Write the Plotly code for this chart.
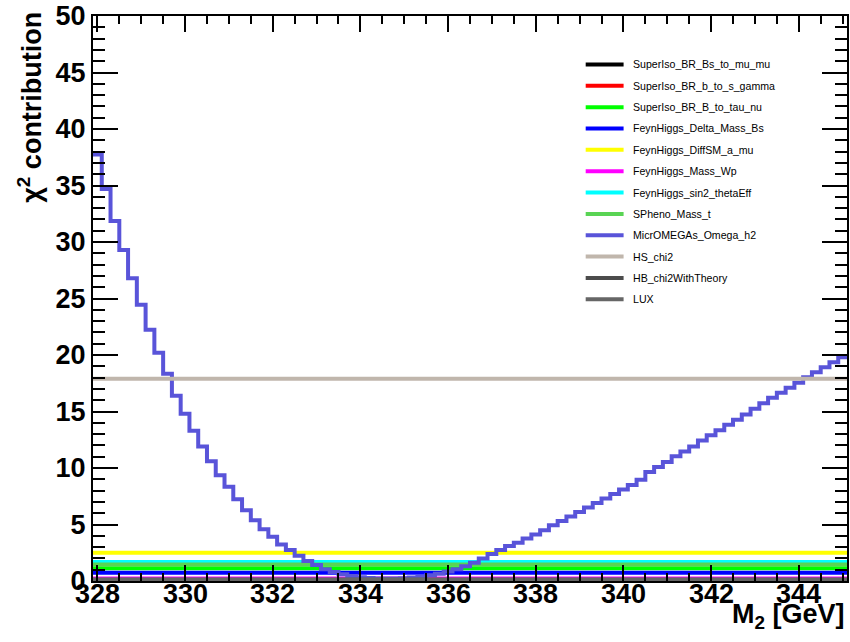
import numpy as np
import plotly.graph_objects as go

# ---------------- data ----------------
x_lo, bin_w, n_bins = 328.0, 0.2, 86
bin_centers = x_lo + bin_w * np.arange(n_bins)

omega_h2 = [37.75, 34.7, 31.86, 29.3, 26.8, 24.45, 22.24, 20.2, 18.33, 16.4,
            14.8, 13.3, 11.9, 10.6, 9.36, 8.33, 7.24, 6.27, 5.38, 4.59,
            3.91, 3.24, 2.74, 2.23, 1.76, 1.41, 1.03, 0.79, 0.59, 0.44,
            0.33, 0.27, 0.23, 0.22, 0.22, 0.25, 0.3, 0.38, 0.5, 0.65,
            0.85, 1.05, 1.3, 1.62, 2.0, 2.38, 2.74, 3.09, 3.38, 3.77,
            4.12, 4.5, 4.94, 5.3, 5.7, 6.1, 6.5, 6.9, 7.3, 7.7,
            8.1, 8.5, 8.97, 9.65, 10.09, 10.53, 11.03, 11.47, 11.9, 12.44,
            12.89, 13.33, 13.83, 14.27, 14.74, 15.24, 15.74, 16.21, 16.65, 17.1,
            17.54, 18.03, 18.47, 18.91, 19.36, 19.8]

series_names = ["SuperIso_BR_Bs_to_mu_mu", "SuperIso_BR_b_to_s_gamma", "SuperIso_BR_B_to_tau_nu",
                "FeynHiggs_Delta_Mass_Bs", "FeynHiggs_DiffSM_a_mu", "FeynHiggs_Mass_Wp",
                "FeynHiggs_sin2_thetaEff", "SPheno_Mass_t", "MicrOMEGAs_Omega_h2",
                "HS_chi2", "HB_chi2WithTheory", "LUX"]
series_colors = ["#000000", "#ff0000", "#00ff00", "#0000ff", "#ffff00", "#ff00ff",
                 "#00ffff", "#59d454", "#5954d9", "#c0b6ac", "#4c4c4c", "#666666"]
# flat contributions (constant over the scan); None -> use omega_h2
flat_levels = [0.05, 0.05, 1.12, 0.72, 2.5, 0.22, 1.68, 1.46, None, 17.9, 0.1, 0.14]

x_ticks = [328, 330, 332, 334, 336, 338, 340, 342, 344]
y_ticks = [0, 5, 10, 15, 20, 25, 30, 35, 40, 45, 50]

# ---------------- figure ----------------
W, H = 850, 642
L, R, T, B = 93, 1, 14, 61
pw, ph = W - L - R, H - T - B

edges = np.append(bin_centers - bin_w / 2, bin_centers[-1] + bin_w / 2)

fig = go.Figure()
for name, col, lvl in zip(series_names, series_colors, flat_levels):
    vals = omega_h2 if lvl is None else [lvl] * n_bins
    yv = list(vals) + [vals[-1]]
    fig.add_trace(go.Scatter(x=edges, y=yv, mode="lines", line_shape="hv",
                             line=dict(color=col, width=4), name=name, showlegend=False))

def px_x(p):
    return (p - L) / pw

def px_y(p):
    return (H - B - p) / ph

bold27 = dict(family="Liberation Sans", size=27, color="black", weight="bold")

shapes, annos = [], []
y0, dy = 62.6, 21.43
for i, (name, col) in enumerate(zip(series_names, series_colors)):
    yy = y0 + dy * i
    shapes.append(dict(type="line", xref="paper", yref="paper",
                       x0=px_x(587), x1=px_x(625), y0=px_y(yy), y1=px_y(yy),
                       line=dict(color=col, width=4)))
    annos.append(dict(xref="paper", yref="paper", x=px_x(632), y=px_y(yy),
                      xanchor="left", yanchor="middle", text=name, showarrow=False,
                      font=dict(family="Liberation Sans", size=10.6, color="black")))

# x tick labels (placed just below the frame, ROOT style)
for v in x_ticks:
    annos.append(dict(xref="x", yref="paper", x=v, y=px_y(577),
                      xanchor="center", yanchor="top", text=str(v), showarrow=False,
                      font=bold27))

annos.append(dict(xref="paper", yref="paper", x=px_x(29), y=px_y(8),
                  xanchor="center", yanchor="top", textangle=-90,
                  text="χ<sup>2</sup> contribution", showarrow=False, font=bold27))
annos.append(dict(xref="paper", yref="paper", x=1.0, y=px_y(597),
                  xanchor="right", yanchor="top",
                  text="M<sub>2</sub> [GeV]", showarrow=False, font=bold27))

fig.update_layout(
    width=W, height=H, margin=dict(l=L, r=R, t=T, b=B, pad=0),
    paper_bgcolor="white", plot_bgcolor="white",
    shapes=shapes, annotations=annos, showlegend=False,
    xaxis=dict(range=[edges[0], edges[-1]], tickmode="array", tickvals=x_ticks,
               showticklabels=False, ticks="inside", ticklen=16,
               tickwidth=1.5, tickcolor="black", showgrid=False, zeroline=False,
               showline=True, linecolor="black", linewidth=2, mirror="allticks",
               minor=dict(ticks="inside", ticklen=8, dtick=0.5, tick0=328,
                          tickcolor="black", tickwidth=1.5, showgrid=False)),
    yaxis=dict(range=[0, 50], tickmode="array", tickvals=y_ticks,
               ticktext=[str(v) for v in y_ticks], ticks="inside", ticklen=25,
               tickwidth=1.5, tickcolor="black", showgrid=False, zeroline=False,
               showline=True, linecolor="black", linewidth=2, mirror="allticks",
               tickfont=bold27, ticklabeloverflow="allow",
               minor=dict(ticks="inside", ticklen=12, dtick=1, tick0=0,
                          tickcolor="black", tickwidth=1.5, showgrid=False)),
)

fig.write_html("out.html")
